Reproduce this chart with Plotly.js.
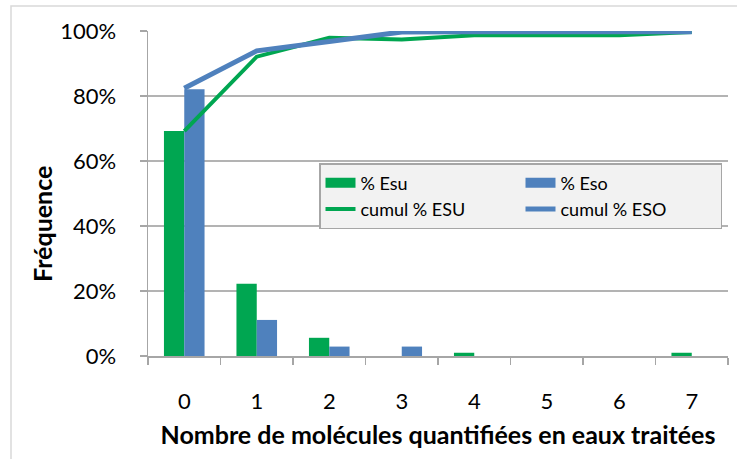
<!DOCTYPE html>
<html>
<head>
<meta charset="utf-8">
<script src="https://cdn.plot.ly/plotly-3.0.1.min.js"></script>
<style>html,body{margin:0;padding:0;background:#fff;}#chart{width:737px;height:459px;}</style>
</head>
<body>
<div id="chart"></div>
<script>
var categories = ['0', '1', '2', '3', '4', '5', '6', '7'];
var pctEsu = [0.692, 0.222, 0.056, 0, 0.01, 0, 0, 0.01];
var pctEso = [0.821, 0.111, 0.029, 0.029, 0, 0, 0, 0];
var cumulEsu = [0.692, 0.921, 0.979, 0.974, 0.987, 0.987, 0.987, 0.997];
var cumulEso = [0.824, 0.939, 0.968, 0.997, 0.998, 0.998, 0.998, 0.998];
var yTicks = [0, 0.2, 0.4, 0.6, 0.8, 1.0];

var green = '#00A651';
var blue = '#4F81BD';
var font = 'Lato, "Open Sans", sans-serif';

var traces = [
  {type: 'bar', name: '% Esu', legendgroup: 'esu', showlegend: false, x: categories, y: pctEsu, marker: {color: green}},
  {type: 'bar', name: '% Eso', legendgroup: 'eso', showlegend: false, x: categories, y: pctEso, marker: {color: blue}},
  // legend keys for the bars (wide flat swatches, as in the reference)
  {type: 'scatter', mode: 'lines', name: '% Esu', legendgroup: 'esu', x: [null], y: [null], line: {color: green, width: 10}},
  {type: 'scatter', mode: 'lines', name: '% Eso', legendgroup: 'eso', x: [null], y: [null], line: {color: blue, width: 10}},
  {type: 'scatter', mode: 'lines', name: 'cumul % ESU', x: categories, y: cumulEsu, line: {color: green, width: 4}},
  {type: 'scatter', mode: 'lines', name: 'cumul % ESO', x: categories, y: cumulEso, line: {color: blue, width: 5}}
];

var L = 148, R = 9, T = 31, B = 103, W = 737, H = 459;
var pw = W - L - R, ph = H - T - B;
function px(x) { return (x - L) / pw; }
function py(y) { return (H - B - y) / ph; }

var layout = {
  width: W, height: H,
  margin: {l: L, r: R, t: T, b: B, pad: 0},
  paper_bgcolor: '#ffffff',
  plot_bgcolor: '#ffffff',
  font: {family: font, color: '#000000', size: 22},
  barmode: 'group',
  bargap: 0.44,
  bargroupgap: 0,
  showlegend: true,
  legend: {
    orientation: 'h',
    x: px(722), y: py(163), xanchor: 'right', yanchor: 'top',
    bgcolor: '#f2f2f2', bordercolor: '#a6a6a6', borderwidth: 1.5,
    font: {family: font, size: 18, color: '#000'},
    entrywidth: 155, entrywidthmode: 'pixels',
    traceorder: 'normal'
  },
  xaxis: {
    type: 'category',
    showgrid: false,
    showline: true, linecolor: '#a6a6a6', linewidth: 1.5,
    ticks: 'outside', tickson: 'boundaries', ticklen: 7, tickcolor: '#a6a6a6', tickwidth: 1.5,
    ticklabelstandoff: 25,
    tickfont: {family: font, size: 22, color: '#000'},
    title: {text: 'Nombre de molécules quantifiées en eaux traitées', font: {family: font, size: 25, color: '#000', weight: 'bold'}, standoff: 13},
    fixedrange: true
  },
  yaxis: {
    range: [0, 1],
    tickvals: yTicks,
    tickformat: '.0%',
    showgrid: true, gridcolor: '#b3b3b3', gridwidth: 1.5,
    zeroline: false,
    showline: true, linecolor: '#a6a6a6', linewidth: 1.5,
    ticks: 'outside', ticklen: 7, tickcolor: '#a6a6a6', tickwidth: 1.5,
    ticklabelstandoff: 19,
    tickfont: {family: font, size: 22, color: '#000'},
    fixedrange: true
  },
  annotations: [
    {text: 'Fréquence', xref: 'paper', yref: 'paper', x: px(42), y: py(224), xanchor: 'center', yanchor: 'middle',
     textangle: -90, showarrow: false, font: {family: font, size: 25, color: '#000', weight: 'bold'}}
  ],
  shapes: [
    {type: 'rect', xref: 'paper', yref: 'paper', x0: px(11), x1: px(745), y0: py(470), y1: py(6),
     line: {color: '#d9d9d9', width: 1.5}, fillcolor: 'rgba(0,0,0,0)', layer: 'below'}
  ]
};

Plotly.newPlot('chart', traces, layout, {displayModeBar: false, staticPlot: true});
</script>
</body>
</html>
